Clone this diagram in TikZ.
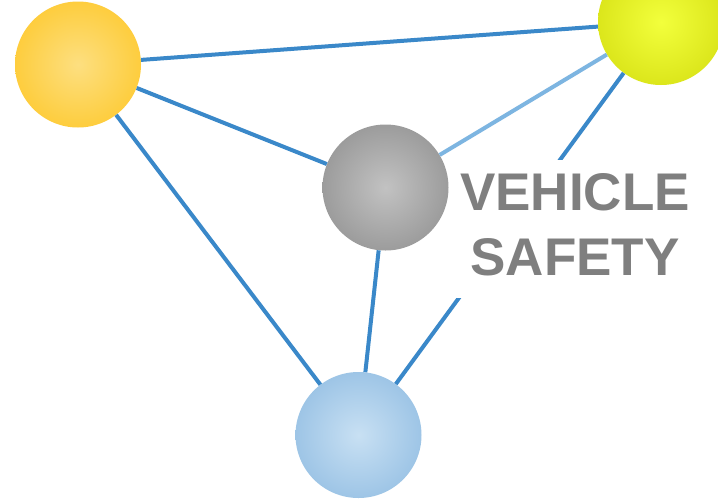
\documentclass[tikz,border=0pt]{standalone}
\usepackage{fontspec}
\setmainfont{Liberation Sans}
\definecolor{orIn}{HTML}{FDDF80}
\definecolor{orOut}{HTML}{FEBE06}
\definecolor{ylIn}{HTML}{F2FF3C}
\definecolor{ylOut}{HTML}{C9D100}
\definecolor{gyIn}{HTML}{C2C2C2}
\definecolor{gyOut}{HTML}{7C7C7C}
\definecolor{blIn}{HTML}{C8E0F3}
\definecolor{blOut}{HTML}{7AAEDB}
\definecolor{lineBlue}{HTML}{3A88C9}
\definecolor{lineLight}{HTML}{7DB5E1}
\definecolor{txtGray}{HTML}{7F7F7F}
\pgfdeclareradialshading{orball}{\pgfpoint{0bp}{0bp}}{color(0bp)=(orIn); color(46bp)=(orOut); color(50bp)=(orOut)}
\pgfdeclareradialshading{ylball}{\pgfpoint{0bp}{0bp}}{color(0bp)=(ylIn); color(46bp)=(ylOut); color(50bp)=(ylOut)}
\pgfdeclareradialshading{gyball}{\pgfpoint{0bp}{0bp}}{color(0bp)=(gyIn); color(46bp)=(gyOut); color(50bp)=(gyOut)}
\pgfdeclareradialshading{blball}{\pgfpoint{0bp}{0bp}}{color(0bp)=(blIn); color(46bp)=(blOut); color(50bp)=(blOut)}
\tikzset{
  ball/.style={circle, inner sep=0pt, minimum size=126pt, shading=#1},
  link/.style={draw=lineBlue, line width=4pt},
  linklight/.style={draw=lineLight, line width=4pt},
}
\begin{document}
\begin{tikzpicture}[x=1pt,y=-1pt]
\useasboundingbox (0,0) rectangle (718,499);
\path[fill=white] (0,0) rectangle (718,499);
% balls
\node[ball=orball] (orange) at (78,64.5) {};
\node[ball=ylball] (yellow) at (661,22) {};
\node[ball=gyball] (gray) at (385.5,187.5) {};
\node[ball=blball] (blue) at (358.5,435) {};
% connectors
\draw[link] (orange) -- (yellow);
\draw[link] (orange) -- (gray);
\draw[link] (orange) -- (blue);
\draw[linklight] (gray) -- (yellow);
\draw[link] (gray) -- (blue);
\draw[link] (yellow) -- (blue);
% text mask and label
\node[fill=white, inner sep=0pt, minimum width=243pt, minimum height=138pt] (mask) at (573.5,229) {};
\node[inner sep=0pt, align=center, text=txtGray, font=\fontsize{53}{65}\selectfont\bfseries] (label) at (575,225) {VEHICLE\\SAFETY};
\end{tikzpicture}
\end{document}
